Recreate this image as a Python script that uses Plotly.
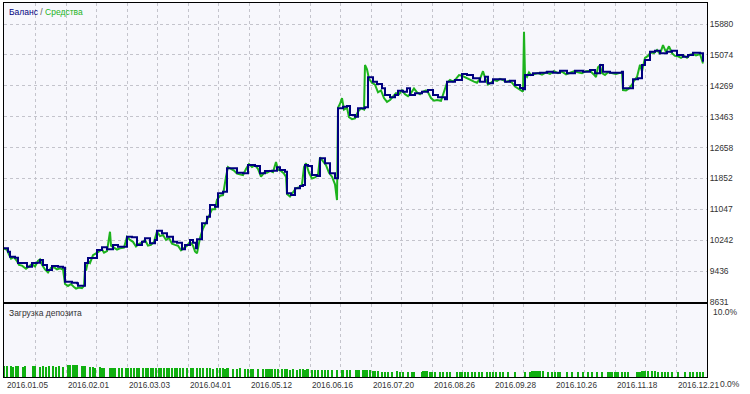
import plotly.graph_objects as go

# ---- data (x = trade/bar index) ----
bal_x = [0, 4, 6, 11, 14, 23, 28, 33, 36, 39, 43, 48, 54, 59, 61, 68, 73, 74, 79, 81, 84, 93, 98, 103,
         109, 114, 121, 123, 128, 133, 138, 141, 146, 151, 153, 158, 163, 169, 173, 178, 181, 186, 189,
         192, 193, 198, 203, 206, 211, 214, 219, 223, 228, 233, 239, 244, 251, 256, 261, 268, 273, 276,
         281, 283, 287, 291, 296, 299, 301, 304, 308, 313, 316, 321, 326, 331, 334, 339, 343, 346, 351,
         354, 361, 364, 369, 373, 378, 381, 386, 391, 394, 399, 403, 406, 411, 418, 424, 429, 434, 441,
         443, 451, 458, 463, 469, 476, 481, 484, 489, 494, 501, 506, 511, 516, 519, 521, 529, 536, 543,
         549, 556, 563, 571, 579, 586, 591, 596, 599, 606, 613, 618, 619, 624, 629, 634, 638, 641, 646,
         651, 656, 663, 668, 673, 679, 684, 689, 696, 699]
balance = [10031, 9943, 9812, 9786, 9648, 9552, 9648, 9656, 9726, 9596, 9466, 9570, 9552, 9526, 9160,
           9134, 9119, 9056, 9056, 9648, 9779, 9987, 10058, 10005, 10118, 10073, 10073, 10334, 10318,
           10118, 10204, 10292, 10162, 10248, 10490, 10423, 10334, 10204, 10178, 10005, 10118, 10248,
           10178, 10031, 10266, 10683, 10856, 11161, 11116, 11466, 11508, 12118, 12118, 12003, 11987,
           12204, 12178, 11987, 12047, 12055, 12144, 12074, 12029, 11466, 11422, 11596, 11656, 11682,
           12204, 12178, 11943, 11917, 12379, 12248, 11987, 11857, 13683, 13724, 13743, 13508, 13464,
           13683, 13709, 14491, 14376, 14316, 14204, 14030, 13970, 14030, 14142, 14116, 14204, 14030,
           14074, 14116, 14160, 14030, 13970, 13917, 14376, 14421, 14577, 14551, 14465, 14376, 14507,
           14335, 14439, 14439, 14376, 14403, 14290, 14212, 14178, 14551, 14596, 14611, 14637, 14611,
           14663, 14596, 14663, 14637, 14682, 14596, 14812, 14637, 14611, 14611, 14637, 14204, 14204,
           14439, 14465, 14812, 14942, 15159, 15185, 15117, 15159, 15185, 15073, 15028, 15073, 15133,
           15117, 14898]

eq_x = [0, 3, 5, 7, 10, 13, 15, 18, 22, 25, 28, 31, 34, 36, 38, 41, 44, 47, 50, 53, 56, 59, 61, 64,
        67, 70, 72, 75, 78, 80, 81, 82, 84, 86, 89, 92, 95, 98, 100, 103, 106, 107, 110, 113, 116, 120,
        123, 126, 129, 132, 135, 138, 141, 144, 147, 150, 153, 156, 159, 162, 165, 168, 171, 174, 177,
        180, 183, 186, 189, 191, 193, 196, 199, 202, 205, 208, 211, 213, 216, 219, 222, 224, 227, 230,
        233, 236, 239, 242, 245, 248, 251, 254, 257, 260, 263, 266, 269, 272, 274, 277, 280, 282, 283,
        286, 289, 292, 295, 298, 300, 302, 305, 308, 311, 314, 316, 319, 322, 325, 328, 331, 333, 334,
        336, 338, 340, 343, 345, 348, 351, 354, 357, 360, 361, 363, 365, 368, 371, 374, 377, 380, 383,
        386, 389, 392, 395, 398, 401, 404, 407, 410, 413, 416, 419, 422, 424, 427, 430, 433, 437, 440,
        443, 446, 449, 452, 455, 458, 461, 464, 467, 470, 473, 476, 479, 481, 484, 487, 490, 493, 496,
        499, 502, 505, 508, 511, 514, 517, 519, 520, 521, 523, 525, 527, 530, 534, 538, 542, 546, 550,
        554, 558, 562, 566, 570, 574, 578, 582, 586, 590, 592, 594, 596, 598, 601, 604, 608, 612, 615,
        618, 619, 622, 625, 628, 630, 633, 636, 638, 641, 644, 647, 650, 653, 656, 659, 662, 665, 668,
        671, 674, 677, 680, 683, 686, 689, 692, 696, 699]
equity = [10031, 9990, 9870, 9760, 9800, 9700, 9600, 9580, 9500, 9560, 9620, 9560, 9700, 9740, 9600,
          9480, 9400, 9520, 9540, 9480, 9510, 9480, 9100, 9050, 9100, 9020, 8980, 9010, 8990, 9050,
          9500, 9450, 9700, 9650, 9850, 9900, 9950, 10000, 9920, 9960, 10464, 10100, 10050, 10000,
          10030, 10050, 10330, 10250, 10200, 10080, 10150, 10180, 10250, 10100, 10120, 10200, 10470,
          10350, 10380, 10250, 10300, 10150, 10120, 10100, 9980, 10050, 10100, 10200, 10100, 9950,
          9900, 10300, 10550, 10700, 10900, 11050, 11050, 11300, 11400, 11420, 11900, 12150, 12100,
          12060, 11980, 11950, 11940, 12100, 12230, 12150, 12200, 12100, 11900, 12000, 12000, 12050,
          12020, 12280, 12080, 12050, 11980, 11900, 11450, 11380, 11500, 11600, 11620, 11700, 12150,
          12250, 12000, 11850, 11880, 11950, 12400, 12300, 12200, 12000, 11900, 11700, 11290, 13700,
          13800, 13950, 13650, 13700, 13450, 13400, 13420, 13600, 13680, 13650, 14812, 14700, 14450,
          14350, 14300, 14100, 14150, 13950, 13850, 13900, 14000, 14080, 14050, 14150, 14050, 14000,
          14080, 14200, 14100, 14050, 14120, 14150, 14100, 13950, 13880, 13900, 13880, 14150, 14350,
          14420, 14380, 14450, 14550, 14530, 14500, 14450, 14420, 14380, 14350, 14450, 14650, 14480,
          14300, 14350, 14420, 14400, 14450, 14420, 14370, 14400, 14350, 14250, 14200, 14150, 14120,
          15680, 14560, 14500, 14620, 14550, 14580, 14600, 14560, 14620, 14580, 14650, 14600, 14640,
          14570, 14600, 14650, 14620, 14600, 14650, 14660, 14560, 14500, 14750, 14800, 14600, 14550,
          14620, 14600, 14580, 14600, 14620, 14160, 14150, 14200, 14300, 14400, 14500, 14820, 14650,
          15000, 15050, 15150, 15120, 15200, 15100, 15330, 15150, 15300, 15120, 15050, 15040, 15000,
          15050, 15000, 15080, 15100, 15060, 15100, 14850]

load_x = [0, 3, 7, 9, 12, 14, 19, 21, 29, 30, 31, 36, 39, 42, 45, 49, 52, 55, 59, 64, 66, 69, 70, 71,
          73, 78, 79, 81, 86, 89, 91, 96, 98, 100, 106, 108, 109, 111, 115, 118, 122, 124, 127, 130,
          133, 135, 139, 142, 144, 147, 149, 152, 155, 157, 160, 163, 165, 168, 171, 173, 176, 179,
          183, 187, 189, 193, 196, 199, 203, 206, 209, 213, 216, 219, 221, 223, 224, 229, 233, 236,
          241, 244, 247, 249, 254, 259, 262, 263, 264, 266, 268, 271, 274, 278, 281, 283, 286, 289,
          293, 296, 299, 301, 303, 304, 308, 311, 314, 318, 321, 324, 328, 333, 338, 339, 343, 346,
          352, 353, 355, 359, 361, 363, 366, 369, 371, 374, 378, 381, 384, 388, 393, 396, 399, 404,
          408, 410, 418, 419, 421, 423, 426, 428, 431, 436, 439, 443, 446, 453, 456, 458, 461, 464,
          468, 471, 475, 478, 483, 486, 489, 492, 496, 499, 504, 511, 521, 526, 528, 529, 531, 533,
          534, 536, 539, 544, 548, 551, 554, 556, 563, 568, 574, 579, 584, 588, 593, 598, 604, 606,
          608, 611, 613, 614, 618, 621, 624, 633, 634, 636, 638, 639, 641, 644, 648, 651, 654, 658,
          661, 664, 668, 674, 681, 686, 689, 693, 696, 699]
load_pct = [1.5, 1.5, 1.5, 1.4, 1.5, 1.5, 1.4, 1.5, 1.5, 1.5, 1.5, 1.4, 1.5, 1.4, 1.5, 1.5, 1.4,
            1.5, 1.4, 1.6, 1.6, 1.6, 1.6, 1.6, 1.6, 1.5, 1.5, 1.5, 1.4, 1.4, 1.3, 1.4, 1.3, 1.3,
            1.3, 1.3, 1.3, 1.3, 1.3, 1.3, 1.2, 1.3, 1.2, 1.3, 1.2, 1.3, 1.3, 1.2, 1.3, 1.3, 1.3,
            1.2, 1.3, 1.3, 1.3, 1.2, 1.3, 1.3, 1.2, 1.2, 1.3, 1.2, 1.2, 1.2, 1.2, 1.2, 1.2, 1.2,
            1.2, 1.2, 1.1, 1.2, 1.2, 1.2, 1.1, 1.2, 1.2, 1.1, 1.1, 1.2, 1.1, 1.1, 1.1, 1.1, 1.1,
            1.1, 1.1, 1.1, 1.1, 1.1, 1.1, 1.1, 1.1, 1.1, 1.1, 1.1, 1.0, 1.1, 1.0, 1.1, 1.1, 1.0,
            1.1, 1.1, 1.0, 1.0, 1.0, 1.0, 1.0, 1.0, 1.0, 1.0, 1.0, 1.0, 0.9, 0.9, 0.9, 1.0, 1.0,
            0.9, 0.9, 0.9, 0.9, 0.8, 0.8, 0.8, 0.7, 0.7, 0.7, 0.7, 0.8, 0.7, 0.7, 0.7, 0.7, 0.7,
            0.7, 0.8, 0.8, 0.8, 0.7, 0.7, 0.7, 0.7, 0.7, 0.7, 0.7, 0.7, 0.7, 0.7, 0.7, 0.7, 0.7,
            0.7, 0.7, 0.7, 0.7, 0.7, 0.7, 0.7, 0.7, 0.7, 0.7, 0.7, 0.7, 0.7, 0.8, 0.8, 0.8, 0.8,
            0.8, 0.8, 0.8, 0.7, 0.7, 0.7, 0.7, 0.7, 0.7, 0.7, 0.7, 0.7, 0.7, 0.7, 0.7, 0.7, 0.7,
            0.7, 0.7, 0.7, 0.7, 0.7, 0.7, 0.7, 0.7, 0.7, 0.7, 0.7, 0.8, 0.8, 0.8, 0.8, 0.8, 0.8,
            0.7, 0.7, 0.7, 0.7, 0.7, 0.7, 0.7, 0.7, 0.7, 0.7, 0.7, 0.7, 0.7, 0.7, 0.6, 0.7]

y_ticks = [8631, 9436, 10242, 11047, 11852, 12658, 13463, 14269, 15074, 15880]
date_pos = [1, 62, 123, 184, 245, 306, 367, 428, 489, 550, 611, 672]
date_labels = ["2016.01.05", "2016.02.01", "2016.03.03", "2016.04.01", "2016.05.12", "2016.06.16",
               "2016.07.20", "2016.08.26", "2016.09.28", "2016.10.26", "2016.11.18", "2016.12.21"]
load_ticks = [0, 10]
load_labels = ["0.0%", "10.0%"]

# ---- styling ----
FONT = "Liberation Sans"
BAL_C = "#00007f"
EQ_C = "#1db31d"
LOAD_C = "#10b010"
GRID_C = "#c4c4cc"
BG = "#f7f7fc"
TXT = "#333"

fig = go.Figure()
fig.add_trace(go.Scatter(x=eq_x, y=equity, mode="lines", line=dict(color=EQ_C, width=2),
                         xaxis="x", yaxis="y", hoverinfo="skip"))
fig.add_trace(go.Scatter(x=bal_x, y=balance, mode="lines", line=dict(color=BAL_C, width=2, shape="hv"),
                         xaxis="x", yaxis="y", hoverinfo="skip"))
fig.add_trace(go.Bar(x=load_x, y=load_pct, width=1.3, marker=dict(color=LOAD_C, line=dict(width=0)),
                     xaxis="x2", yaxis="y2", hoverinfo="skip"))

xcommon = dict(range=[0, 703], showline=True, mirror=True, linecolor="#000", linewidth=1,
               showgrid=True, gridcolor=GRID_C, griddash="3px,3px", gridwidth=1,
               tick0=1, dtick=30.5, showticklabels=False, ticks="", zeroline=False,
               automargin=False)
fig.update_layout(
    width=750, height=394,
    margin=dict(l=4, r=43, t=3, b=17, autoexpand=False),
    paper_bgcolor="white", plot_bgcolor=BG,
    showlegend=False, bargap=0,
    font=dict(family=FONT, size=8.5, color=TXT),
    xaxis=dict(**xcommon, anchor="y"),
    xaxis2=dict(**xcommon, anchor="y2", matches="x"),
    yaxis=dict(domain=[0.2005, 1], range=[8631, 16429], side="right", anchor="x",
               tickvals=y_ticks, ticktext=[str(v) for v in y_ticks], automargin=False,
               showline=True, mirror=True, linecolor="#000", linewidth=1,
               showgrid=True, gridcolor=GRID_C, griddash="3px,3px", zeroline=False, ticks="",
               tickfont=dict(family=FONT, size=8.5, color=TXT)),
    yaxis2=dict(domain=[0, 0.1952], range=[0, 10], side="right", anchor="x2",
                showticklabels=False, automargin=False,
                showline=True, mirror=True, linecolor="#000", linewidth=1,
                showgrid=False, zeroline=False, ticks=""),
)

# percentage labels of the deposit-load panel (placed just below their levels, as in the original)
for v, t, dx in zip(load_ticks, load_labels, [11, 4]):
    fig.add_annotation(x=1, xref="paper", y=v, yref="y2", text=t, showarrow=False,
                       xanchor="left", yanchor="top", xshift=dx, yshift=-1 if v else 0,
                       font=dict(family=FONT, size=8.5, color=TXT))

for p, t in zip(date_pos, date_labels):
    fig.add_annotation(x=p, y=0, xref="x2", yref="paper", text=t, showarrow=False,
                       xanchor="left", yanchor="top", yshift=-2,
                       font=dict(family=FONT, size=8.2, color=TXT))

fig.add_annotation(x=0.004, y=1, xref="paper", yref="paper", xanchor="left", yanchor="top",
                   yshift=-2, showarrow=False,
                   text=f"<span style='color:{BAL_C}'>Баланс</span> / "
                        f"<span style='color:{EQ_C}'>Средства</span>",
                   font=dict(family=FONT, size=8.5, color="#555"))
fig.add_annotation(x=0.004, y=0.1952, xref="paper", yref="paper", xanchor="left", yanchor="top",
                   yshift=-2, showarrow=False, text="Загрузка депозита",
                   font=dict(family=FONT, size=8.5, color=TXT))

fig.write_html("out.html")
